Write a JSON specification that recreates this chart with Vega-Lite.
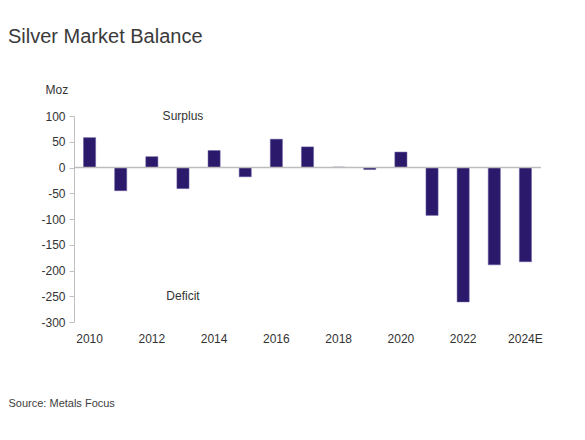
{
  "$schema": "https://vega.github.io/schema/vega-lite/v6.json",
  "autosize": "none",
  "width": 467,
  "height": 206,
  "padding": {"left": 74, "top": 116, "right": 44, "bottom": 118},
  "background": "white",
  "title": {
    "text": "Silver Market Balance",
    "anchor": "start",
    "frame": "group",
    "orient": "top",
    "dx": -66,
    "offset": 36,
    "font": "Liberation Sans",
    "fontSize": 20,
    "fontWeight": "normal",
    "color": "#3a3a3a"
  },
  "config": {
    "view": {"stroke": null},
    "font": "Liberation Sans",
    "text": {"font": "Liberation Sans"}
  },
  "datasets": {
    "balance": [
      {"year": "2010", "moz": 58},
      {"year": "2011", "moz": -45},
      {"year": "2012", "moz": 21},
      {"year": "2013", "moz": -41},
      {"year": "2014", "moz": 33},
      {"year": "2015", "moz": -18},
      {"year": "2016", "moz": 55},
      {"year": "2017", "moz": 40},
      {"year": "2018", "moz": 1},
      {"year": "2019", "moz": -4},
      {"year": "2020", "moz": 30},
      {"year": "2021", "moz": -93},
      {"year": "2022", "moz": -261},
      {"year": "2023", "moz": -189},
      {"year": "2024E", "moz": -183}
    ],
    "notes": [
      {"year": "2013", "moz": 100, "label": "Surplus"},
      {"year": "2013", "moz": -250, "label": "Deficit"}
    ]
  },
  "layer": [
    {
      "data": {"name": "balance"},
      "mark": {"type": "bar", "color": "#2b1a6b", "stroke": "#6a5fa0", "strokeWidth": 0.5},
      "encoding": {
        "x": {
          "field": "year",
          "type": "ordinal",
          "sort": null,
          "scale": {"paddingInner": 0.61, "paddingOuter": 0.305},
          "axis": {
            "values": ["2010", "2012", "2014", "2016", "2018", "2020", "2022", "2024E"],
            "domain": false,
            "ticks": false,
            "labelAngle": 0,
            "labelPadding": 11,
            "labelFontSize": 12,
            "labelColor": "#333333",
            "title": "Source: Metals Focus",
            "titleFontSize": 11,
            "titleFontWeight": "normal",
            "titleColor": "#404040",
            "titleAnchor": "start",
            "titleAlign": "left",
            "titleBaseline": "middle",
            "titleX": -66,
            "titleY": 81
          }
        },
        "y": {
          "field": "moz",
          "type": "quantitative",
          "scale": {"domain": [-300, 100], "nice": false},
          "axis": {
            "values": [100, 50, 0, -50, -100, -150, -200, -250, -300],
            "tickCount": 12,
            "labelExpr": "datum.value + ''",
            "labelOverlap": false,
            "grid": false,
            "domainColor": "#c0c0c0",
            "tickColor": "#c0c0c0",
            "tickSize": 5,
            "labelPadding": 4,
            "labelFontSize": 12,
            "labelColor": "#333333",
            "title": "Moz",
            "titleAngle": 0,
            "titleFontSize": 12,
            "titleFontWeight": "normal",
            "titleColor": "#333333",
            "titleAlign": "left",
            "titleBaseline": "middle",
            "titleX": -29,
            "titleY": -27
          }
        }
      }
    },
    {
      "data": {"values": [{}]},
      "mark": {"type": "rule", "color": "#bdbdbd", "strokeWidth": 1.5},
      "encoding": {"y": {"datum": 0}}
    },
    {
      "data": {"name": "notes"},
      "mark": {"type": "text", "fontSize": 12, "color": "#333333", "align": "center", "baseline": "middle"},
      "encoding": {
        "x": {"field": "year", "type": "ordinal"},
        "y": {"field": "moz", "type": "quantitative"},
        "text": {"field": "label"}
      }
    }
  ]
}
